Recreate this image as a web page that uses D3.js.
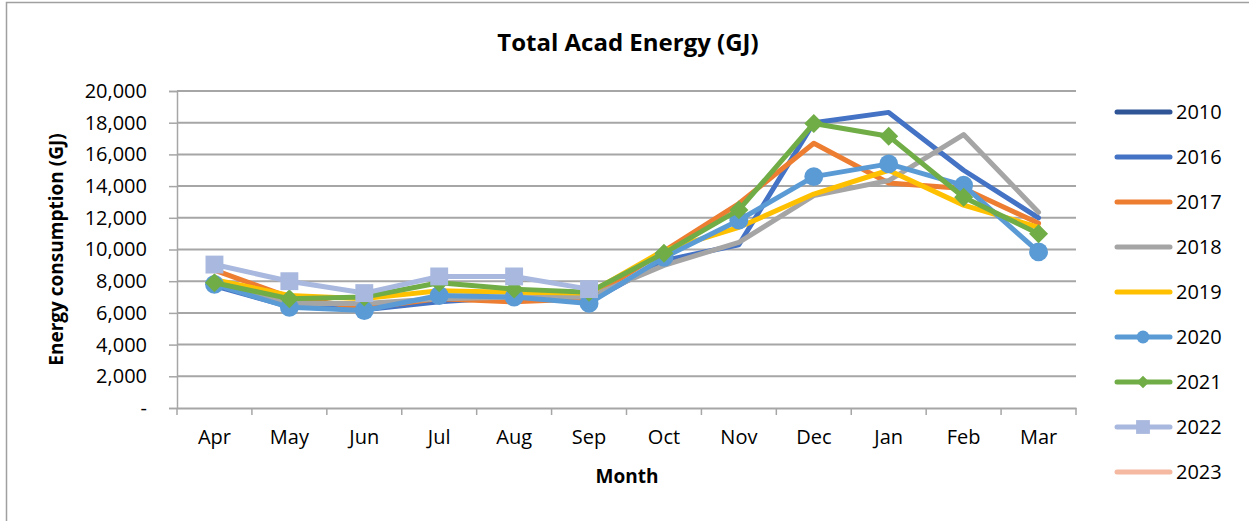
<!DOCTYPE html>
<html>
<head>
<meta charset="utf-8">
<script src="https://cdn.jsdelivr.net/npm/d3@7"></script>
<style>
  body { margin: 0; background: #fff; }
  text { font-family: "Open Sans", sans-serif; fill: #000; }
</style>
</head>
<body>
<div class="chart"></div>
<script>
var months = ["Apr","May","Jun","Jul","Aug","Sep","Oct","Nov","Dec","Jan","Feb","Mar"];
var years = ["2010","2016","2017","2018","2019","2020","2021","2022","2023"];
var colors = ["#2F5597","#4472C4","#ED7D31","#A5A5A5","#FFC000","#5B9BD5","#70AD47","#A9B8DE","#F4B9A0"];
var markers = ["none","none","none","none","none","circle","diamond","square","none"];

var v2010 = [];
var v2016 = [7700, 6400, 6200, 6700, 7000, 6700, 9300, 10300, 18000, 18650, 15000, 12000];
var v2017 = [8700, 7000, 6300, 6900, 6700, 6900, 9900, 12900, 16700, 14200, 13850, 11650];
var v2018 = [8000, 6600, 6600, 6900, 7000, 7000, 9000, 10450, 13400, 14350, 17250, 12350];
var v2019 = [8100, 7100, 6900, 7400, 7300, 7250, 9950, 11400, 13500, 15000, 12800, 11400];
var v2020 = [7800, 6350, 6150, 7100, 7000, 6600, 9500, 11850, 14600, 15400, 14050, 9850];
var v2021 = [7900, 6900, 7000, 7900, 7500, 7300, 9770, 12500, 17950, 17150, 13300, 11000];
var v2022 = [9050, 8000, 7250, 8300, 8300, 7500];
var v2023 = [];
var values = [v2010, v2016, v2017, v2018, v2019, v2020, v2021, v2022, v2023];

var yTicks = [0, 2000, 4000, 6000, 8000, 10000, 12000, 14000, 16000, 18000, 20000];

function init() {
    var w = 1249, h = 521;
    var left = 177, right = 1076, top = 91, bottom = 408;

    var svg = d3.select(".chart")
        .append("svg")
        .attr("width", w)
        .attr("height", h);

    // chart border
    svg.append("rect")
        .attr("x", 6.5).attr("y", 2.5)
        .attr("width", w + 10).attr("height", h + 10)
        .attr("fill", "#fff")
        .attr("stroke", "#A0A0A0")
        .attr("stroke-width", 1.5);

    var x = d3.scalePoint().domain(months).range([left, right]).padding(0.5);
    var xb = d3.scaleBand().domain(months).range([left, right]);
    var y = d3.scaleLinear().domain([0, 20000]).range([bottom, top]);

    // gridlines
    svg.append("g")
        .selectAll("line")
        .data(yTicks.slice(1))
        .enter()
        .append("line")
        .attr("x1", left).attr("x2", right)
        .attr("y1", function(d) { return y(d); })
        .attr("y2", function(d) { return y(d); })
        .attr("stroke", "#A6A6A6")
        .attr("stroke-width", 2);

    // y axis
    var yAxis = svg.append("g")
        .attr("transform", "translate(" + left + ",0)")
        .call(d3.axisLeft(y).tickValues(yTicks).tickSize(8).tickPadding(22)
            .tickFormat(function(d) { return d === 0 ? "-" : d3.format(",")(d); }));
    yAxis.select(".domain").attr("stroke", "#A6A6A6").attr("stroke-width", 1.5);
    yAxis.selectAll(".tick line").attr("stroke", "#A6A6A6").attr("stroke-width", 1.5);
    yAxis.selectAll(".tick text").attr("font-size", 20).attr("font-family", "Open Sans").attr("fill", "#000");

    // x axis
    var xAxis = svg.append("g")
        .attr("transform", "translate(0," + bottom + ")")
        .call(d3.axisBottom(xb).tickSize(0).tickPadding(22));
    xAxis.select(".domain").attr("stroke", "#A6A6A6").attr("stroke-width", 2);
    xAxis.selectAll(".tick text").attr("font-size", 20).attr("font-family", "Open Sans").attr("fill", "#000");
    xAxis.selectAll(".bound")
        .data(d3.range(months.length + 1))
        .enter()
        .append("line")
        .attr("class", "bound")
        .attr("x1", function(i) { return left + i * xb.step(); })
        .attr("x2", function(i) { return left + i * xb.step(); })
        .attr("y1", 0).attr("y2", 7)
        .attr("stroke", "#A6A6A6")
        .attr("stroke-width", 1.5);

    // titles
    svg.append("text")
        .attr("x", 628).attr("y", 51)
        .attr("text-anchor", "middle")
        .attr("font-size", 24).attr("font-weight", "bold")
        .text("Total Acad Energy (GJ)");
    svg.append("text")
        .attr("x", 627).attr("y", 483)
        .attr("text-anchor", "middle")
        .attr("font-size", 19).attr("font-weight", "bold")
        .text("Month");
    svg.append("text")
        .attr("transform", "translate(63," + ((top + bottom) / 2) + ") rotate(-90)")
        .attr("text-anchor", "middle")
        .attr("font-size", 19).attr("font-weight", "bold")
        .text("Energy consumption (GJ)");

    var line = d3.line()
        .defined(function(d) { return d != null; })
        .x(function(d, i) { return x(months[i]); })
        .y(function(d) { return y(d); });

    var symbolFor = {
        circle: d3.symbol().type(d3.symbolCircle),
        diamond: d3.symbol().type(d3.symbolDiamond2),
        square: d3.symbol().type(d3.symbolSquare)
    };
    var markerSize = { circle: 280, diamond: 230, square: 320 };

    var series = svg.selectAll("g.series")
        .data(years)
        .enter()
        .append("g")
        .attr("class", "series");

    series.append("path")
        .attr("fill", "none")
        .attr("stroke", function(d, i) { return colors[i]; })
        .attr("stroke-width", 5)
        .attr("stroke-linejoin", "round")
        .attr("stroke-linecap", "round")
        .attr("d", function(d, i) { return line(values[i]); });

    series.each(function(d, i) {
        if (markers[i] === "none") return;
        d3.select(this).selectAll("path.mk")
            .data(values[i])
            .enter()
            .append("path")
            .attr("class", "mk")
            .attr("fill", colors[i])
            .attr("d", symbolFor[markers[i]].size(markerSize[markers[i]]))
            .attr("transform", function(v, j) {
                return "translate(" + x(months[j]) + "," + y(v) + ")";
            });
    });

    // legend
    var legend = svg.selectAll("g.legend")
        .data(years)
        .enter()
        .append("g")
        .attr("class", "legend")
        .attr("transform", function(d, i) { return "translate(1115," + (112 + i * 45) + ")"; });

    legend.append("line")
        .attr("x1", 2).attr("x2", 55)
        .attr("stroke", function(d, i) { return colors[i]; })
        .attr("stroke-width", 5)
        .attr("stroke-linecap", "round");

    legend.each(function(d, i) {
        if (markers[i] === "none") return;
        var sz = { circle: 130, diamond: 100, square: 190 };
        d3.select(this).append("path")
            .attr("fill", colors[i])
            .attr("d", symbolFor[markers[i]].size(sz[markers[i]]))
            .attr("transform", "translate(28,0)");
    });

    legend.append("text")
        .attr("x", 61)
        .attr("dy", "0.35em")
        .attr("font-size", 20)
        .text(function(d) { return d; });
}

init()
</script>
</body>
</html>
